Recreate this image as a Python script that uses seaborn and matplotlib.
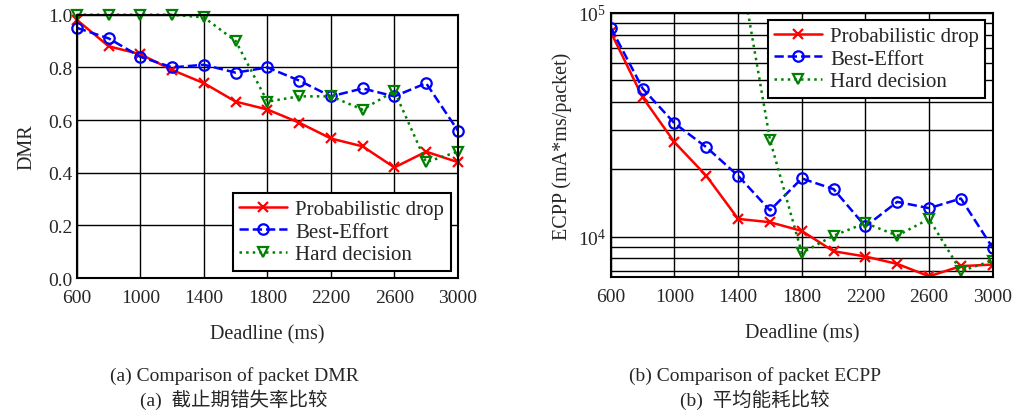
import numpy as np
import pandas as pd
import matplotlib
matplotlib.use("Agg")
import matplotlib.pyplot as plt
import seaborn as sns
from matplotlib.ticker import LogLocator, NullFormatter, FixedLocator

# Data
deadline = [600, 800, 1000, 1200, 1400, 1600, 1800, 2000, 2200, 2400, 2600, 2800, 3000]

dmr_prob = [0.98, 0.88, 0.85, 0.79, 0.74, 0.67, 0.64, 0.59, 0.53, 0.50, 0.42, 0.48, 0.44]
dmr_best = [0.95, 0.91, 0.84, 0.80, 0.81, 0.78, 0.80, 0.75, 0.69, 0.72, 0.69, 0.74, 0.56]
dmr_hard = [1.00, 1.00, 1.00, 1.00, 0.99, 0.90, 0.67, 0.69, 0.69, 0.64, 0.71, 0.44, 0.48]

ecpp_prob = [82000, 41900, 26400, 18700, 12000, 11600, 10600, 8600, 8150, 7550, 6650, 7380, 7500]
ecpp_best = [85800, 45900, 32100, 25100, 18700, 13100, 18200, 16300, 11100, 14300, 13400, 14800, 8900]
ecpp_hard = [300000, 260000, 230000, 200000, 180000, 27100, 8460, 10100, 11500, 10100, 12000, 7010, 7820]

series_names = ["Probabilistic drop", "Best-Effort", "Hard decision"]
colors = ["#ff0000", "#0000ff", "#008000"]
markers = ["x", "o", "v"]
styles = ["-", "--", ":"]

sns.set_style("white")
plt.rcParams["font.family"] = ["Liberation Serif", "Noto Sans CJK SC"]
plt.rcParams["mathtext.fontset"] = "stix"

fig = plt.figure(figsize=(10.13, 4.14), dpi=100)
ax1 = fig.add_axes([0.076, 0.326, 0.376, 0.636])
ax2 = fig.add_axes([0.603, 0.3285, 0.377, 0.638])


def draw(ax, values, clip):
    for name, vals, c, m, ls in zip(series_names, values, colors, markers, styles):
        df = pd.DataFrame({"Deadline": deadline, "v": vals})
        sns.lineplot(data=df, x="Deadline", y="v", ax=ax, color=c, marker=m,
                     linestyle=ls, linewidth=1.8, markersize=7.5,
                     markerfacecolor="none" if m != "x" else c,
                     markeredgecolor=c, markeredgewidth=1.6, label=name,
                     clip_on=clip, zorder=3)


draw(ax1, [dmr_prob, dmr_best, dmr_hard], False)
draw(ax2, [ecpp_prob, ecpp_best, ecpp_hard], True)

xticks = [600, 1000, 1400, 1800, 2200, 2600, 3000]
for ax in (ax1, ax2):
    ax.set_xlim(600, 3000)
    ax.set_xticks(xticks)
    ax.set_xlabel("Deadline (ms)", fontsize=14.5, labelpad=13)
    ax.tick_params(labelsize=14, direction="in", length=0, color="black")
    ax.tick_params(axis="x", pad=8)
    for s in ax.spines.values():
        s.set_color("black")
        s.set_linewidth(1.5)
        s.set_zorder(4)
    ax.set_axisbelow(True)

ax1.set_ylim(0, 1.0)
ax1.set_yticks([0.0, 0.2, 0.4, 0.6, 0.8, 1.0])
ax1.set_yticklabels(["0.0", "0.2", "0.4", "0.6", "0.8", "1.0"])
ax1.set_ylabel("DMR", fontsize=14.5, labelpad=8)
ax1.grid(True, color="black", linewidth=1.0)
leg1 = ax1.legend(loc="lower right", fontsize=15, frameon=True, fancybox=False,
                  edgecolor="black", framealpha=1, borderpad=0.3, labelspacing=0.15,
                  handlelength=2.3, handletextpad=0.4, borderaxespad=0.35)
leg1.get_frame().set_linewidth(1.5)
leg1.set_zorder(5)

ax2.set_yscale("log")
ax2.set_ylim(6600, 100000)
ax2.yaxis.set_major_locator(FixedLocator([1e4, 1e5]))
ax2.yaxis.set_minor_locator(LogLocator(base=10, subs=np.arange(2, 10)))
ax2.yaxis.set_minor_formatter(NullFormatter())
ax2.tick_params(axis="y", which="minor", length=0)
ax2.set_ylabel("ECPP (mA*ms/packet)", fontsize=14.5, labelpad=4)
ax2.grid(True, which="major", axis="both", color="black", linewidth=1.0)
ax2.grid(True, which="minor", axis="y", color="black", linewidth=1.0)
leg2 = ax2.legend(loc="upper right", fontsize=15, frameon=True, fancybox=False,
                  edgecolor="black", framealpha=1, borderpad=0.3, labelspacing=0.15,
                  handlelength=2.3, handletextpad=0.4, borderaxespad=0.35)
leg2.get_frame().set_linewidth(1.5)
leg2.set_zorder(5)

fig.text(0.231, 0.092, "(a) Comparison of packet DMR", ha="center", va="center", fontsize=14)
fig.text(0.231, 0.034, "(a)  截止期错失率比较", ha="center", va="center", fontsize=14)
fig.text(0.745, 0.092, "(b) Comparison of packet ECPP", ha="center", va="center", fontsize=14)
fig.text(0.745, 0.034, "(b)  平均能耗比较", ha="center", va="center", fontsize=14)

fig.savefig("out.png", dpi=100)
